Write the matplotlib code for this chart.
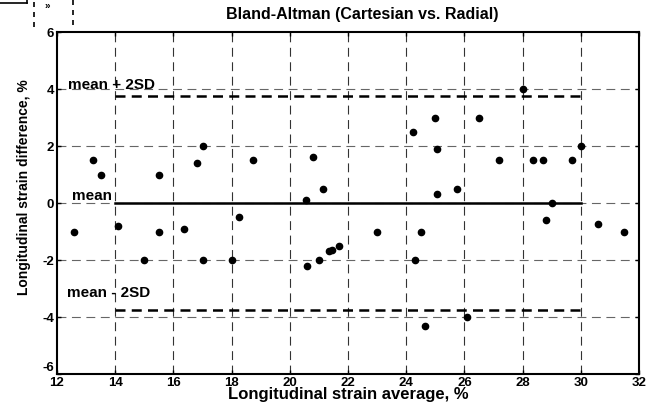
import matplotlib
matplotlib.use("Agg")
import matplotlib.pyplot as plt
from matplotlib.lines import Line2D

plt.rcParams['font.family'] = ['Liberation Sans', 'DejaVu Sans']

# ---- data ----
strain_avg = [13.25, 13.5, 15.5, 16.8, 17.0, 18.75, 20.8, 21.15, 20.55, 18.25,
              28.0, 25.0, 26.5, 24.25, 25.05, 27.2, 28.35, 28.7, 29.7, 30.0,
              25.05, 25.75, 29.0, 28.8, 12.6, 14.1, 15.5, 16.35, 15.0, 17.0,
              18.0, 20.6, 21.0, 21.35, 21.45, 21.7, 23.0, 24.5, 24.3, 24.65,
              26.1, 30.6, 31.5]
strain_diff = [1.5, 1.0, 1.0, 1.4, 2.0, 1.5, 1.6, 0.5, 0.1, -0.5,
               4.0, 3.0, 3.0, 2.5, 1.9, 1.5, 1.5, 1.5, 1.5, 2.0,
               0.3, 0.5, 0.0, -0.6, -1.0, -0.8, -1.0, -0.9, -2.0, -2.0,
               -2.0, -2.2, -2.0, -1.7, -1.65, -1.5, -1.0, -1.0, -2.0, -4.3,
               -4.0, -0.75, -1.0]
mean_diff = 0.0
upper_loa = 3.74
lower_loa = -3.74
line_range = [14, 30]
x_ticks = [12, 14, 16, 18, 20, 22, 24, 26, 28, 30, 32]
y_ticks = [-6, -4, -2, 0, 2, 4, 6]
title = "Bland-Altman (Cartesian vs. Radial)"
xlabel = "Longitudinal strain average, %"
ylabel = "Longitudinal strain difference, %"

W, H = 660, 407
fig = plt.figure(figsize=(W / 100, H / 100), dpi=100)
ax = fig.add_axes([57 / W, 1 - 374 / H, (639 - 57) / W, (374 - 32) / H])

ax.set_xlim(12, 32)
ax.set_ylim(-6, 6)
ax.set_xticks(x_ticks)
ax.set_yticks(y_ticks)
ax.set_xticklabels([str(t) for t in x_ticks], fontsize=9.5, fontweight='bold')
ax.set_yticklabels([str(t) for t in y_ticks], fontsize=9.5, fontweight='bold')
ax.tick_params(direction='in', length=3, width=1, top=True, right=True, pad=2)
ax.get_yticklabels()[0].set_va('bottom')

# grid
for xt in x_ticks[1:-1]:
    ax.axvline(xt, color='#333333', lw=0.8, ls=(0, (8, 5)), zorder=0)
for yt in y_ticks[1:-1]:
    ax.axhline(yt, color='#666666', lw=0.8, ls=(0, (8, 5)), zorder=0)

for sp in ax.spines.values():
    sp.set_linewidth(1.5)

# mean and limits
ax.plot(line_range, [mean_diff, mean_diff], color='black', lw=1.8, zorder=2)
ax.plot(line_range, [upper_loa, upper_loa], color='black', lw=1.8, ls=(0, (4, 2.5)), zorder=2)
ax.plot(line_range, [lower_loa, lower_loa], color='black', lw=1.8, ls=(0, (4, 2.5)), zorder=2)

ax.plot(strain_avg, strain_diff, 'o', color='black', ms=4.5, zorder=3)

ax.text(12.38, 4.0, "mean + 2SD", fontsize=11, fontweight='bold', va='baseline', ha='left')
ax.text(12.5, 0.1, "mean", fontsize=11, fontweight='bold', va='baseline', ha='left')
ax.text(12.35, -3.3, "mean - 2SD", fontsize=11, fontweight='bold', va='baseline', ha='left')

fig.text(362 / W, 1 - 15 / H, title, fontsize=11.5, fontweight='bold', ha='center', va='center')
fig.text(348 / W, 1 - 395 / H, xlabel, fontsize=12, fontweight='bold', ha='center', va='center')
fig.text(24 / W, 1 - 187 / H, ylabel, fontsize=10, fontweight='bold', ha='center', va='center',
         rotation=90)

# cropped artifacts at the top-left corner
fig.add_artist(Line2D([0, 27 / W], [1 - 3 / H, 1 - 3 / H], color='black', lw=1.2))
fig.add_artist(Line2D([27 / W, 27 / W], [1, 1 - 3 / H], color='black', lw=1.2))
fig.add_artist(Line2D([34 / W, 34 / W], [1 - 2 / H, 1 - 27 / H], color='black', lw=1.2,
                      ls=(0, (3, 3))))
fig.add_artist(Line2D([73 / W, 73 / W], [1, 1 - 27 / H], color='black', lw=1.2,
                      ls=(0, (3, 3))))
fig.text(47 / W, 1 - 1 / H, "»", fontsize=7, fontweight='bold', ha='center', va='top')

fig.savefig("out.png", dpi=100)
